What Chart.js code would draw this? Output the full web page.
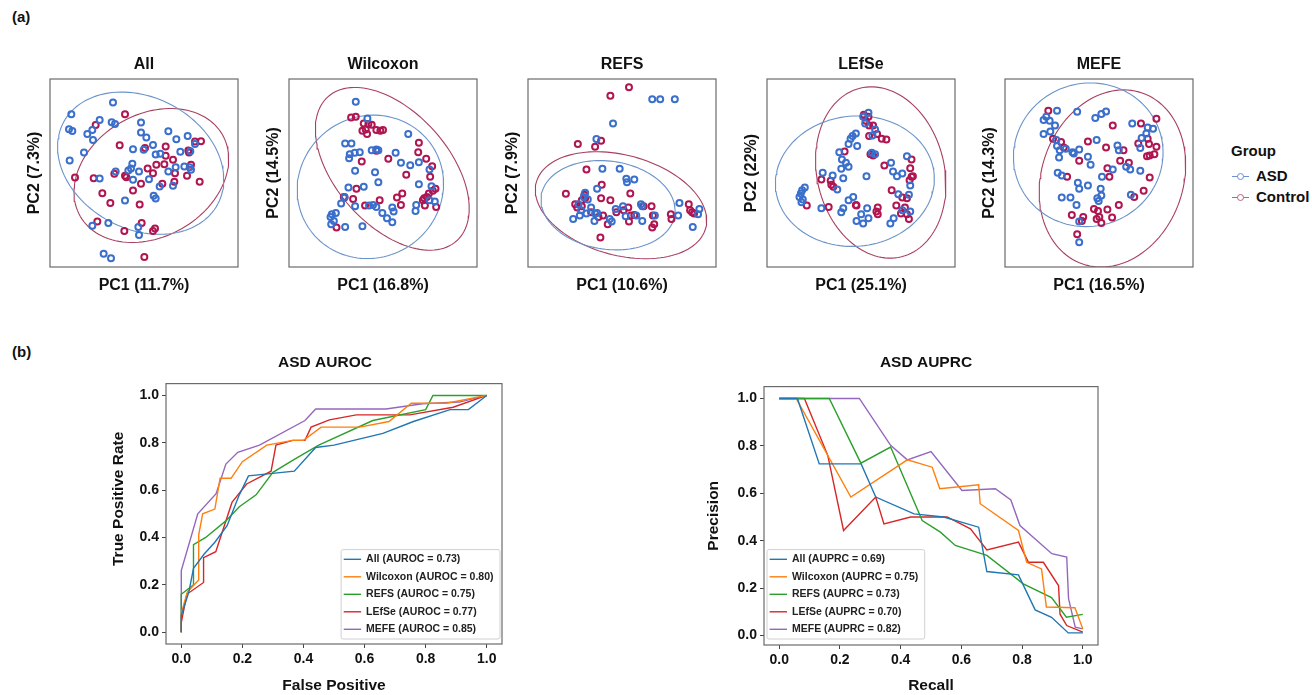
<!DOCTYPE html>
<html>
<head>
<meta charset="utf-8">
<script src="https://cdn.jsdelivr.net/npm/chart.js@4.4.1/dist/chart.umd.min.js"></script>
<style>
  body { margin: 0; background: #fff; width: 1312px; height: 695px; position: relative; overflow: hidden;
         font-family: 'Liberation Sans', Arial, sans-serif; color: #111; }
  canvas { position: absolute; }
  .tag { position: absolute; font-weight: bold; font-size: 15px; line-height: 18px; }
  .key { position: absolute; font-weight: bold; font-size: 15px; line-height: 18px; }
  .mk { position: absolute; height: 1px; width: 17px; }
  .dot { position: absolute; width: 5px; height: 5px; border-radius: 50%; background: #fff; }
</style>
</head>
<body>
<div class="tag" style="left:12px;top:8px">(a)</div>
<div class="tag" style="left:12px;top:343px">(b)</div>

<!-- group legend of the PCA panels -->
<div class="key" style="left:1231px;top:142px">Group</div>
<div class="mk" style="left:1232px;top:176px;background:#6f8fd0"></div>
<div class="dot" style="left:1237px;top:173px;border:1px solid #6f8fd0"></div>
<div class="key" style="left:1256px;top:167px">ASD</div>
<div class="mk" style="left:1232px;top:197px;background:#c2607d"></div>
<div class="dot" style="left:1237px;top:194px;border:1px solid #c2607d"></div>
<div class="key" style="left:1256px;top:188px">Control</div>

<script>
// ---- (a) PCA panels: points, in panel units ----
const panelNames = ['All', 'Wilcoxon', 'REFS', 'LEfSe', 'MEFE'];
const pc1Labels = ['PC1 (11.7%)', 'PC1 (16.8%)', 'PC1 (10.6%)', 'PC1 (25.1%)', 'PC1 (16.5%)'];
const pc2Labels = ['PC2 (7.3%)', 'PC2 (14.5%)', 'PC2 (7.9%)', 'PC2 (22%)', 'PC2 (14.3%)'];

// frame of each panel [xMin, xMax, yMin, yMax]
const frames = [[33, 597, 27, 592], [27, 593, 27, 590], [24, 590, 27, 590], [20, 587, 27, 590], [15, 575, 27, 590]];

const allAsd = [[222,98],[97,133],[182,150],[218,157],[228,162],[306,158],[90,178],[100,183],[145,192],[160,180],[162,210],[306,188],[322,203],[388,184],[412,208],[446,198],[468,222],[342,225],[282,238],[314,240],[135,248],[92,272],[350,254],[364,252],[424,246],[454,244],[280,282],[276,296],[268,302],[230,305],[182,326],[282,330],[330,328],[300,305],[388,305],[410,292],[436,290],[452,292],[456,300],[402,348],[362,350],[344,378],[350,386],[258,392],[208,460],[160,468],[298,472],[300,496],[194,552],[216,566]];
const allCtrl = [[258,133],[170,165],[468,215],[486,214],[242,226],[318,234],[380,230],[448,242],[450,248],[380,258],[402,270],[352,285],[376,283],[456,285],[326,296],[108,323],[164,325],[226,312],[258,318],[262,322],[342,310],[408,310],[444,318],[306,342],[370,342],[406,336],[482,336],[282,362],[190,370],[214,400],[302,404],[175,455],[308,460],[348,476],[342,484],[256,484],[316,562]];

const wilAsd = [[228,95],[263,145],[196,220],[215,220],[210,252],[225,248],[240,246],[208,264],[276,240],[290,238],[296,240],[348,248],[386,192],[364,278],[392,285],[418,276],[450,298],[226,302],[286,306],[296,336],[206,352],[252,350],[184,400],[194,380],[226,408],[268,406],[280,404],[290,410],[308,428],[338,412],[342,424],[322,444],[338,456],[418,342],[456,348],[410,404],[408,422],[466,394],[156,432],[152,440],[168,428],[162,452],[154,462],[196,470],[248,468],[450,390]];
const wilCtrl = [[214,142],[228,140],[252,160],[266,162],[258,178],[248,182],[262,192],[276,164],[290,180],[302,182],[310,180],[418,218],[416,246],[440,266],[458,288],[452,320],[326,266],[246,274],[290,242],[380,314],[230,356],[220,386],[192,380],[256,406],[300,390],[352,382],[368,370],[364,404],[434,384],[448,370],[460,362],[468,356],[442,380],[430,390],[436,406],[470,410],[170,472],[194,382]];

const refsAsd = [[398,88],[422,88],[466,88],[280,160],[230,207],[248,296],[300,296],[320,326],[344,328],[322,336],[232,356],[196,368],[192,380],[204,388],[176,402],[214,412],[184,420],[226,430],[232,428],[180,436],[160,446],[224,452],[270,446],[276,454],[288,416],[310,408],[318,438],[350,436],[364,402],[368,408],[368,452],[406,436],[480,398],[476,436],[540,416],[536,432],[520,470],[200,430]];
const refsCtrl = [[328,52],[272,77],[174,222],[244,212],[226,230],[200,298],[246,344],[138,371],[194,374],[186,390],[166,402],[172,412],[186,408],[244,384],[272,390],[332,370],[214,426],[236,440],[250,436],[264,462],[290,426],[312,420],[326,412],[334,436],[344,434],[328,454],[372,408],[396,408],[400,436],[404,462],[398,472],[454,432],[456,446],[508,402],[512,420],[518,426],[524,430],[242,502],[196,384]];

const lefseAsd = [[326,128],[310,140],[316,160],[346,178],[338,196],[288,190],[278,198],[272,206],[266,222],[292,228],[238,246],[246,268],[258,278],[266,290],[244,296],[250,324],[188,308],[218,316],[232,358],[320,318],[336,248],[346,252],[394,278],[400,304],[412,318],[428,310],[442,258],[452,346],[416,372],[448,374],[452,424],[402,444],[392,460],[326,444],[310,460],[290,452],[304,432],[322,414],[266,390],[280,380],[250,414],[244,426],[184,414],[134,352],[126,360],[122,370],[118,380],[128,388],[124,396],[428,420]];
const lefseCtrl = [[312,134],[326,140],[318,152],[328,166],[340,166],[352,192],[366,206],[380,208],[328,198],[254,244],[332,252],[340,256],[374,286],[456,268],[452,294],[456,320],[460,318],[450,330],[396,360],[428,382],[442,384],[410,406],[436,412],[424,430],[442,432],[448,446],[354,412],[350,424],[354,432],[290,406],[206,410],[140,406],[184,328],[212,332],[214,344],[220,350],[288,404]];

const mefeAsd = [[170,122],[230,125],[138,140],[130,150],[148,152],[164,166],[130,192],[150,184],[284,144],[302,132],[316,124],[394,160],[440,172],[456,176],[422,204],[418,234],[168,210],[178,240],[170,228],[196,236],[216,246],[220,250],[236,238],[176,262],[262,260],[270,284],[288,210],[350,226],[354,240],[376,290],[388,298],[418,302],[336,298],[304,320],[172,308],[184,316],[232,338],[236,356],[262,346],[300,356],[302,376],[290,384],[294,392],[184,382],[210,382],[228,404],[390,374],[236,454],[236,516],[436,190]];
const mefeCtrl = [[144,122],[336,166],[420,160],[466,146],[158,206],[182,216],[190,232],[262,214],[316,232],[368,240],[412,220],[440,206],[444,222],[446,256],[438,258],[460,252],[466,230],[236,272],[320,294],[326,320],[358,272],[384,278],[446,322],[200,320],[400,380],[428,362],[354,404],[280,416],[292,422],[296,440],[302,458],[288,446],[248,440],[244,452],[214,434],[320,418],[334,442],[230,492]];

const asdPoints = [allAsd, wilAsd, refsAsd, lefseAsd, mefeAsd];
const ctrlPoints = [allCtrl, wilCtrl, refsCtrl, lefseCtrl, mefeCtrl];

// confidence ellipses [cx, cy, semi-axis a, semi-axis b, angle deg]
const asdEllipses = [[305,280,262,198,28], [272,350,223,212,-30], [265,405,203,132,8], [285,333,240,195,-5], [263,254,224,214,-20]];
const ctrlEllipses = [[337,317,246,184,-30], [338,296,290,170,48], [304,405,264,150,15], [363,307,260,192,76], [335,325,271,211,-71]];

// ---- (b) ROC / PR curves ----
const methods = ['All', 'Wilcoxon', 'REFS', 'LEfSe', 'MEFE'];
const aurocs = ['0.73', '0.80', '0.75', '0.77', '0.85'];
const auprcs = ['0.69', '0.75', '0.73', '0.70', '0.82'];
const curveColors = ['#1f77b4', '#ff7f0e', '#2ca02c', '#d62728', '#9467bd'];
const unitTicks = [0, 0.2, 0.4, 0.6, 0.8, 1.0];

const rocFprAll = [0,0,0.025,0.04,0.075,0.11,0.15,0.19,0.22,0.37,0.44,0.5,0.66,0.76,0.88,0.94,1.0];
const rocTprAll = [0,0.07,0.17,0.27,0.33,0.38,0.45,0.58,0.66,0.68,0.78,0.79,0.84,0.89,0.94,0.94,1.0];
const rocFprWil = [0,0,0.02,0.057,0.057,0.07,0.11,0.127,0.163,0.2,0.28,0.365,0.4,0.458,0.584,0.68,0.753,0.868,1.0];
const rocTprWil = [0,0.08,0.17,0.22,0.41,0.5,0.52,0.65,0.65,0.72,0.79,0.81,0.81,0.866,0.866,0.89,0.967,0.967,1.0];
const rocFprRefs = [0,0,0.04,0.04,0.08,0.146,0.19,0.245,0.3,0.37,0.45,0.627,0.8,0.824,1.0];
const rocTprRefs = [0,0.16,0.2,0.37,0.4,0.47,0.53,0.58,0.675,0.73,0.79,0.894,0.94,1.0,1.0];
const rocFprLefse = [0,0,0.018,0.073,0.073,0.113,0.166,0.214,0.294,0.31,0.365,0.405,0.425,0.485,0.573,0.748,0.89,1.0];
const rocTprLefse = [0,0.04,0.16,0.21,0.315,0.34,0.548,0.626,0.68,0.79,0.81,0.81,0.866,0.897,0.918,0.918,0.95,1.0];
const rocFprMefe = [0,0,0.054,0.114,0.146,0.185,0.256,0.405,0.44,0.67,0.79,0.91,1.0];
const rocTprMefe = [0,0.26,0.5,0.585,0.71,0.76,0.79,0.894,0.943,0.943,0.965,0.972,1.0];

const prRecAll = [0,0.06,0.132,0.27,0.318,0.444,0.542,0.657,0.684,0.788,0.843,0.897,0.952,1.0];
const prPreAll = [1.0,1.0,0.724,0.724,0.584,0.513,0.5,0.457,0.27,0.256,0.108,0.077,0.011,0.011];
const prRecWil = [0,0.056,0.236,0.422,0.504,0.529,0.657,0.662,0.788,0.815,0.864,0.88,0.974,1.0];
const prPreWil = [1.0,1.0,0.584,0.741,0.71,0.619,0.636,0.556,0.443,0.309,0.281,0.12,0.117,0.028];
const prRecRefs = [0,0.165,0.269,0.367,0.471,0.531,0.58,0.684,0.804,0.897,0.946,1.0];
const prPreRefs = [1.0,1.0,0.727,0.795,0.485,0.436,0.38,0.338,0.218,0.16,0.077,0.089];
const prRecLefse = [0,0.083,0.16,0.212,0.318,0.345,0.433,0.553,0.63,0.684,0.788,0.821,0.87,0.92,0.925,0.947,1.0];
const prPreLefse = [1.0,1.0,0.76,0.443,0.584,0.471,0.5,0.5,0.45,0.361,0.394,0.309,0.309,0.211,0.09,0.042,0.014];
const prRecMefe = [0,0.264,0.367,0.422,0.5,0.602,0.712,0.763,0.793,0.898,0.947,0.953,0.975,1.0];
const prPreMefe = [1.0,1.0,0.802,0.741,0.776,0.612,0.619,0.572,0.464,0.345,0.331,0.155,0.035,0.028];

const rocX = [rocFprAll, rocFprWil, rocFprRefs, rocFprLefse, rocFprMefe];
const rocY = [rocTprAll, rocTprWil, rocTprRefs, rocTprLefse, rocTprMefe];
const prX = [prRecAll, prRecWil, prRecRefs, prRecLefse, prRecMefe];
const prY = [prPreAll, prPreWil, prPreRefs, prPreLefse, prPreMefe];

// ---- drawing ----
const FONT = "'Liberation Sans', Arial, sans-serif";
Chart.defaults.font.family = FONT;
Chart.defaults.color = '#111';

const asdColor = '#3a6fcb';
const ctrlColor = '#b01550';
const asdLine = '#6a93c9';
const ctrlLine = '#a8405e';

// box round every axes
const framePlugin = {
  id: 'frame',
  afterDatasetsDraw(chart) {
    const { ctx, chartArea: a } = chart;
    ctx.save();
    ctx.strokeStyle = '#6b6b6b';
    ctx.lineWidth = 1.2;
    ctx.strokeRect(a.left, a.top, a.right - a.left, a.bottom - a.top);
    ctx.restore();
  }
};

// matplotlib-like legend box inside the axes
const innerLegend = {
  id: 'innerLegend',
  afterDraw(chart, args, opts) {
    const { ctx, chartArea: a } = chart;
    const ds = chart.data.datasets;
    ctx.save();
    ctx.font = 'bold 10.5px ' + FONT;
    const tw = Math.max(...ds.map(d => ctx.measureText(d.label).width));
    const rowH = 17.5;
    const w = 2.6 + 17.4 + 5 + tw + 6.5;
    const h = 9.7 * 2 + rowH * (ds.length - 1);
    const x0 = opts.side === 'right' ? a.right - opts.inset[0] - w : a.left + opts.inset[0];
    const y0 = a.bottom - opts.inset[1] - h;
    ctx.fillStyle = 'rgba(255,255,255,0.85)';
    ctx.strokeStyle = '#d0d0d0';
    ctx.lineWidth = 1;
    ctx.beginPath();
    ctx.roundRect(x0, y0, w, h, 2);
    ctx.fill();
    ctx.stroke();
    ds.forEach((d, i) => {
      const y = y0 + 9.7 + i * rowH;
      ctx.strokeStyle = d.borderColor;
      ctx.lineWidth = 1.4;
      ctx.beginPath();
      ctx.moveTo(x0 + 2.6, y);
      ctx.lineTo(x0 + 20, y);
      ctx.stroke();
      ctx.fillStyle = '#222';
      ctx.textBaseline = 'middle';
      ctx.fillText(d.label, x0 + 25, y);
    });
    ctx.restore();
  }
};

// rotated y label, can sit off the axes centre as in the figure
const sideTitle = {
  id: 'sideTitle',
  afterDraw(chart, args, o) {
    if (!o.text) return;
    const { ctx, chartArea: a } = chart;
    ctx.save();
    ctx.translate(o.x, (a.top + a.bottom) / 2 + o.shift);
    ctx.rotate(-Math.PI / 2);
    ctx.font = 'bold 15.5px ' + FONT;
    ctx.fillStyle = '#111';
    ctx.textAlign = 'center';
    ctx.textBaseline = 'middle';
    ctx.fillText(o.text, 0, 0);
    ctx.restore();
  }
};

function ellipsePoints(e) {
  const [cx, cy, ra, rb, ang] = e;
  const phi = ang * Math.PI / 180;
  const out = [];
  for (let k = 0; k <= 120; k++) {
    const t = k / 120 * 2 * Math.PI;
    out.push({
      x: cx + ra * Math.cos(t) * Math.cos(phi) - rb * Math.sin(t) * Math.sin(phi),
      y: cy + ra * Math.cos(t) * Math.sin(phi) + rb * Math.sin(t) * Math.cos(phi)
    });
  }
  return out;
}

function makeCanvas(left, top, w, h) {
  const cv = document.createElement('canvas');
  cv.width = w; cv.height = h;
  cv.style.left = left + 'px';
  cv.style.top = top + 'px';
  cv.style.width = w + 'px';
  cv.style.height = h + 'px';
  document.body.appendChild(cv);
  return cv;
}

// empty axis on the right, only to keep titles centred where they are in the figure
const spacer = w => ({
  type: 'linear', position: 'right', display: true, min: 0, max: 1,
  ticks: { display: false }, grid: { display: false }, border: { display: false },
  afterFit(s) { s.width = w; }
});

const boxLefts = [50, 289, 528, 767, 1005];
const boxTop = 79, boxW = 188, boxH = 188;

panelNames.forEach((name, i) => {
  const [x0, x1, y0, y1] = frames[i];
  const cv = makeCanvas(boxLefts[i] - 29, boxTop - 32, boxW + 58, boxH + 64);
  const dots = (pts, col) => ({
    data: pts.map(p => ({ x: p[0], y: p[1] })),
    pointStyle: 'circle', pointRadius: 3, borderWidth: 2,
    borderColor: col, backgroundColor: 'rgba(255,255,255,0)'
  });
  const ring = (e, col) => ({
    data: ellipsePoints(e), showLine: true, pointRadius: 0,
    borderColor: col, borderWidth: 1.1, fill: false, tension: 0
  });
  new Chart(cv, {
    type: 'scatter',
    data: {
      datasets: [
        dots(asdPoints[i], asdColor),
        dots(ctrlPoints[i], ctrlColor),
        ring(asdEllipses[i], asdLine),
        ring(ctrlEllipses[i], ctrlLine)
      ]
    },
    options: {
      responsive: false, animation: false, events: [],
      plugins: {
        legend: { display: false }, tooltip: { enabled: false },
        title: { display: true, text: name, font: { size: 16, weight: 'bold' }, color: '#111', padding: { top: 8, bottom: 4.8 } }
      },
      scales: {
        x: {
          min: x0, max: x1, ticks: { display: false }, grid: { display: false }, border: { display: false },
          title: { display: true, text: pc1Labels[i], font: { size: 16, weight: 'bold' }, color: '#111', padding: { top: 0, bottom: 4 } },
          afterFit(s) { s.height = 32; }
        },
        y: {
          min: y0, max: y1, reverse: true, ticks: { display: false }, grid: { display: false }, border: { display: false },
          title: { display: true, text: pc2Labels[i], font: { size: 16, weight: 'bold' }, color: '#111', padding: { top: 4, bottom: 0 } },
          afterFit(s) { s.width = 29; }
        },
        pad: spacer(29)
      }
    },
    plugins: [framePlugin]
  });
});

function curveChart(cfg) {
  const cv = makeCanvas(cfg.left, 340, cfg.width, 355);
  const axis = extra => Object.assign({
    type: 'linear',
    afterBuildTicks(s) { s.ticks = unitTicks.map(v => ({ value: v })); },
    ticks: { callback: v => v.toFixed(1), font: { size: 14, weight: 'bold' }, color: '#111', maxRotation: 0, autoSkip: false },
    grid: { drawOnChartArea: false, tickLength: 4, color: '#444' },
    border: { display: false }
  }, extra);
  new Chart(cv, {
    type: 'line',
    data: {
      datasets: methods.map((m, i) => ({
        label: `${m} (${cfg.metric} = ${cfg.scores[i]})`,
        data: cfg.xs[i].map((v, k) => ({ x: v, y: cfg.ys[i][k] })),
        borderColor: curveColors[i], borderWidth: 1.4, pointRadius: 0, tension: 0, fill: false
      }))
    },
    options: {
      responsive: false, animation: false, events: [],
      plugins: {
        legend: { display: false }, tooltip: { enabled: false },
        title: { display: true, text: cfg.title, font: { size: 15.5, weight: 'bold' }, color: '#111', lineHeight: 1.16, padding: { top: 13.7, bottom: cfg.titleGap } },
        innerLegend: { side: cfg.side, inset: cfg.inset },
        sideTitle: { text: cfg.yTitle, x: 13, shift: cfg.yShift }
      },
      scales: {
        x: axis({
          min: -0.05, max: 1.05,
          title: { display: true, text: cfg.xTitle, font: { size: 15.5, weight: 'bold' }, color: '#111', padding: { top: 0, bottom: 0 } },
          afterFit(s) { s.height = cfg.xHeight; }
        }),
        y: axis({ min: cfg.yMin, max: 1.05, afterFit(s) { s.width = cfg.yWidth; } }),
        pad: spacer(cfg.padRight)
      }
    },
    plugins: [framePlugin, innerLegend, sideTitle]
  });
}

curveChart({
  left: 106, width: 438, padRight: 42, title: 'ASD AUROC', titleGap: 11.3,
  xTitle: 'False Positive', yTitle: 'True Positive Rate', yShift: -15, metric: 'AUROC', scores: aurocs,
  xs: rocX, ys: rocY, xHeight: 51, yWidth: 60, yMin: -0.05, side: 'right', inset: [2, 5]
});
curveChart({
  left: 701, width: 450, padRight: 53, title: 'ASD AUPRC', titleGap: 14.3,
  xTitle: 'Recall', yTitle: 'Precision', yShift: 0, metric: 'AUPRC', scores: auprcs,
  xs: prX, ys: prY, xHeight: 50, yWidth: 63, yMin: -0.04, side: 'left', inset: [3, 6]
});
</script>
</body>
</html>
